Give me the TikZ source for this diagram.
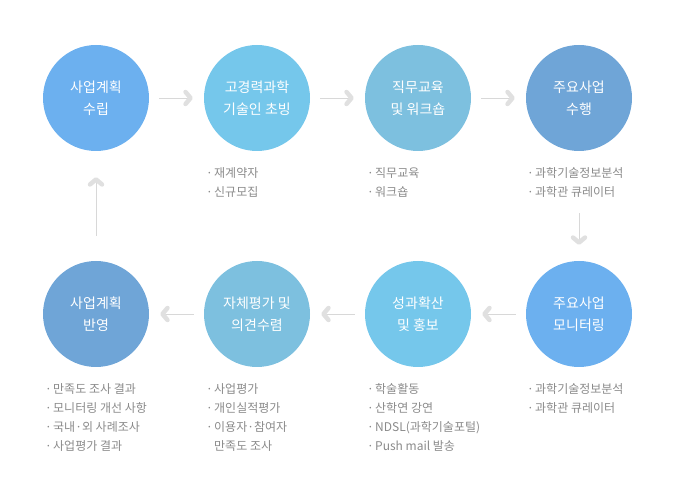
\documentclass[tikz,border=0pt]{standalone}
\usepackage{fontspec}
\setmainfont{Noto Sans CJK KR}
\usetikzlibrary{arrows.meta}

\definecolor{skyA}{HTML}{6CB0EF}
\definecolor{skyB}{HTML}{75C7EB}
\definecolor{skyC}{HTML}{7DC0DF}
\definecolor{skyD}{HTML}{6FA5D7}
\definecolor{listgray}{HTML}{8A8A8A}
\definecolor{linegray}{HTML}{D8D8D8}
\definecolor{tipgray}{HTML}{E0E0E0}

\newcommand{\li}[1]{\makebox[8pt][l]{·}#1}

\begin{document}
\begin{tikzpicture}[
  x=1pt, y=-1pt,
  stage/.style={circle,minimum size=106pt,inner sep=0pt,text=white,align=center,
    font=\fontsize{14}{22}\selectfont},
  % base is the baseline of the last line
  items/.style={anchor=base west,inner sep=0pt,align=left,text=listgray,
    font=\fontsize{12}{19}\selectfont},
  flow/.style={draw=linegray,line width=0.8pt,shorten <=10pt,shorten >=11pt,
    -{Straight Barb[length=5pt,width=12pt,line width=4.5pt,round,color=tipgray]}}
]
  \useasboundingbox (0,0) rectangle (675,502);

  % top row
  \node[stage,fill=skyA] (plan)    at (96,98)  {사업계획\\수립};
  \node[stage,fill=skyB] (invite)  at (257,98) {고경력과학\\기술인 초빙};
  \node[stage,fill=skyC] (train)   at (418,98) {직무교육\\및 워크숍};
  \node[stage,fill=skyD] (perform) at (579,98) {주요사업\\수행};

  % bottom row
  \node[stage,fill=skyD] (reflect) at (96,314)  {사업계획\\반영};
  \node[stage,fill=skyC] (review)  at (257,314) {자체평가 및\\의견수렴};
  \node[stage,fill=skyB] (spread)  at (418,314) {성과확산\\및 홍보};
  \node[stage,fill=skyA] (monitor) at (579,314) {주요사업\\모니터링};

  \draw[flow] (plan) -- (invite);
  \draw[flow] (invite) -- (train);
  \draw[flow] (train) -- (perform);
  \draw[flow,shorten <=62pt,shorten >=16pt] (perform) -- (monitor);
  \draw[flow] (monitor) -- (spread);
  \draw[flow] (spread) -- (review);
  \draw[flow] (review) -- (reflect);
  \draw[flow,shorten <=25pt,shorten >=26pt] (reflect) -- (plan);

  % item lists
  \node[items] (invite-l)  at (206,196.5) {\li{재계약자}\\\li{신규모집}};
  \node[items] (train-l)   at (367,196.5) {\li{직무교육}\\\li{워크숍}};
  \node[items] (perform-l) at (527,196.5) {\li{과학기술정보분석}\\\li{과학관 큐레이터}};

  \node[items] (reflect-l) at (45,450.5)  {\li{만족도 조사 결과}\\\li{모니터링 개선 사항}\\\li{국내·외 사례조사}\\\li{사업평가 결과}};
  \node[items] (review-l)  at (206,450.5) {\li{사업평가}\\\li{개인실적평가}\\\li{이용자·참여자}\\\hspace*{8pt}만족도 조사};
  \node[items] (spread-l)  at (367,450.5) {\li{학술활동}\\\li{산학연 강연}\\\li{NDSL(과학기술포털)}\\\li{Push mail 발송}};
  \node[items] (monitor-l) at (527,412.5) {\li{과학기술정보분석}\\\li{과학관 큐레이터}};
\end{tikzpicture}
\end{document}
